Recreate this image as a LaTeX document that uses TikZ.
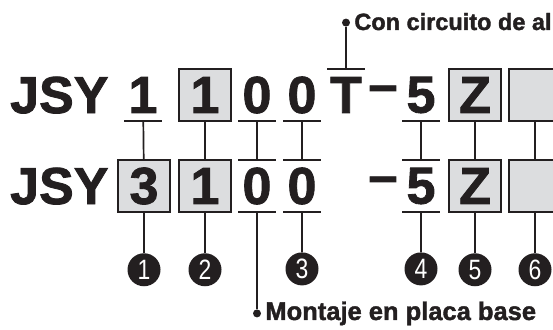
\documentclass[tikz,border=0pt]{standalone}
\usepackage{fontspec}
\setmainfont{Liberation Sans}
\newfontfamily\heavyfont[FakeBold=1.6]{Liberation Sans Bold}
\newfontfamily\numfont[FakeStretch=0.82]{Liberation Sans}
\usetikzlibrary{positioning}
\definecolor{ink}{HTML}{231F20}
\definecolor{boxgray}{HTML}{DCDDDF}

\begin{document}
\begin{tikzpicture}[
    x=1pt, y=-1pt,
    big/.style={inner sep=0pt, text=ink, font=\heavyfont\fontsize{52}{52}\selectfont},
    plainch/.style={big, minimum width=37pt, minimum height=52pt},
    boxch/.style={big, draw=ink, fill=boxgray, line width=1.6pt, minimum size=52.5pt},
    callnum/.style={shape=circle, fill=ink, text=white, inner sep=0pt,
                minimum width=33pt, minimum height=33pt,
                font=\numfont\fontsize{28}{28}\selectfont},
    blob/.style={shape=circle, fill=ink, inner sep=0pt, minimum width=8pt, minimum height=8pt},
    lbl/.style={inner sep=0pt, text=ink, font=\heavyfont\fontsize{25.5}{25.5}\selectfont},
    rule/.style={draw=ink, line width=1.7pt},
    node distance=40pt
  ]
  \useasboundingbox (0,0) rectangle (553,329);
  \clip (0,0) rectangle (553,329);

  % Top row
  \node[big, anchor=base west] (jsyA) at (10,113) {JSY};
  \node[plainch] (t1) at (143,95) {1};
  \node[boxch] (t2) at (205,95) {1};
  \node[plainch] (t3) at (257,95) {0};
  \node[plainch] (t4) at (302,95) {0};
  \node[plainch] (tT) at (346,95) {T};
  \node[big] (tdash) at (383,94) {–};
  \node[plainch] (t5) at (421,95) {5};
  \node[boxch] (tZ) at (475,95) {Z};
  \node[boxch] (tE) at (535,95) {};

  % Bottom row
  \node[big, anchor=base west] (jsyB) at (10,204) {JSY};
  \node[boxch] (b1) at (144,186) {3};
  \node[boxch] (b2) at (205,186) {1};
  \node[plainch] (b3) at (257,186) {0};
  \node[plainch] (b4) at (302,186) {0};
  \node[big] (bdash) at (383,185) {–};
  \node[plainch] (b5) at (421,186) {5};
  \node[boxch] (bZ) at (475,186) {Z};
  \node[boxch] (bE) at (535,186) {};

  % Under- and overlines
  \foreach \n in {t1,t3,t4,t5,b3,b4,b5}
    \draw[rule] (\n.south west) -- (\n.south east);
  \foreach \n in {tT,b3,b4,b5}
    \draw[rule] (\n.north west) -- (\n.north east);

  % Numbered markers
  \node[callnum, below=of b1] (c1) {1};
  \node[callnum, below=of b2] (c2) {2};
  \node[callnum, below=of b4] (c3) {3};
  \node[callnum, below=of b5] (c4) {4};
  \node[callnum, below=of bZ] (c5) {5};
  \node[callnum, below=of bE] (c6) {6};

  % Notes
  \node[blob, above=42pt of tT] (dcon) {};
  \node[lbl, right=4pt of dcon, yshift=1pt, font=\heavyfont\fontsize{23.5}{23.5}\selectfont] (lcon) {Con circuito de al};
  \node[blob, below=97pt of b3] (dmont) {};
  \node[lbl, right=4pt of dmont] (lmont) {Montaje en placa base};

  % Links
  \draw[rule] (t1) -- (b1);
  \draw[rule] (t2) -- (b2);
  \draw[rule] (t3) -- (b3);
  \draw[rule] (t4) -- (b4);
  \draw[rule] (t5) -- (b5);
  \draw[rule] (tZ) -- (bZ);
  \draw[rule] (tE) -- (bE);
  \draw[rule] (b1) -- (c1);
  \draw[rule] (b2) -- (c2);
  \draw[rule] (b4) -- (c3);
  \draw[rule] (b5) -- (c4);
  \draw[rule] (bZ) -- (c5);
  \draw[rule] (bE) -- (c6);
  \draw[rule] (tT) -- (dcon);
  \draw[rule] (b3) -- (dmont);
\end{tikzpicture}
\end{document}
